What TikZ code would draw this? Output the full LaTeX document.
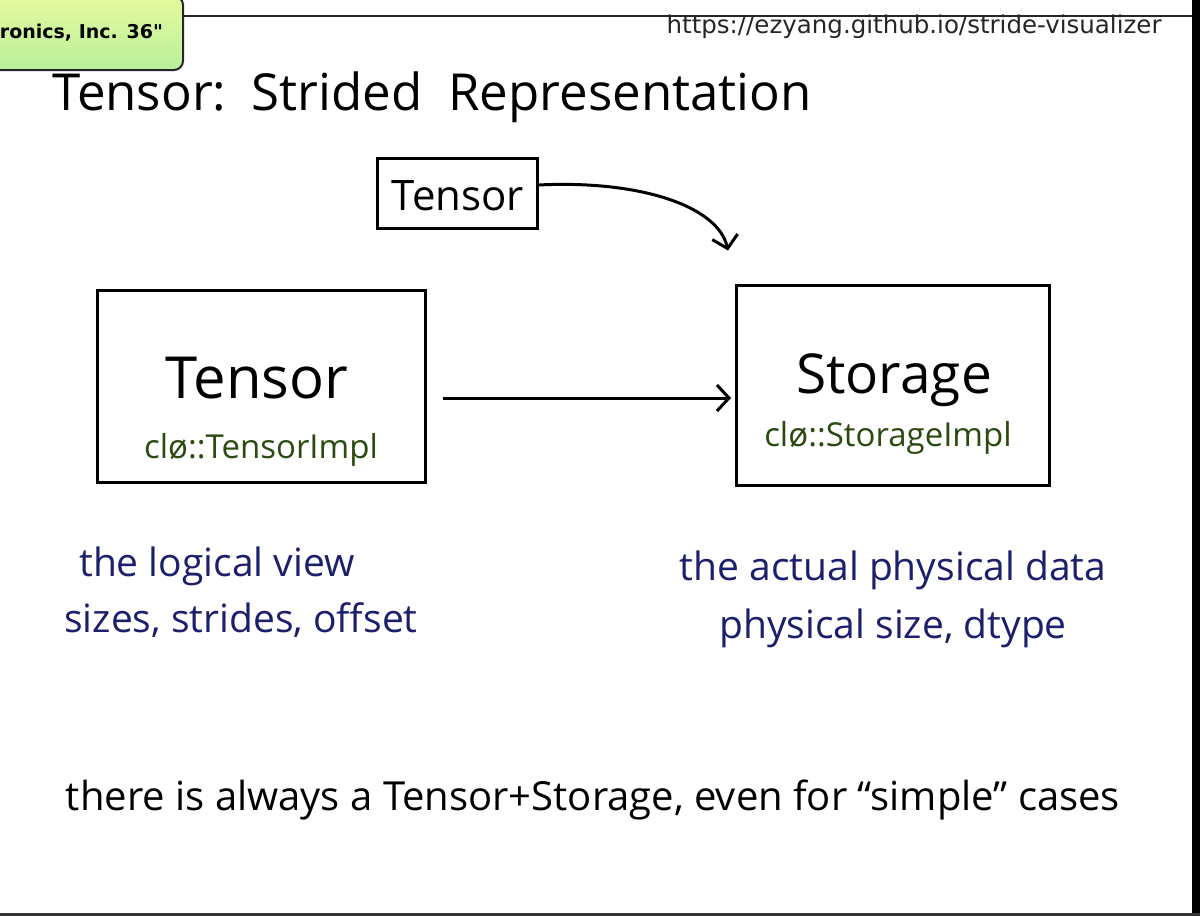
\documentclass[tikz,border=0pt]{standalone}
\usepackage{fontspec}
\setmainfont{Open Sans}
\newfontfamily\urlfont{DejaVu Sans}
\usetikzlibrary{positioning, arrows.meta}

\definecolor{inkgreen}{HTML}{2A4A10}
\definecolor{inkblue}{HTML}{1C1F6B}
\definecolor{taggreen}{HTML}{B8F09C}

\begin{document}
\begin{tikzpicture}[x=1pt, y=-1pt,
  box/.style={draw, line width=3pt, inner sep=0pt},
  big/.style={font=\fontsize{58}{64}\selectfont, anchor=base},
  impl/.style={font=\fontsize{33}{36}\selectfont, text=inkgreen, anchor=base},
  note/.style={font=\fontsize{39}{42}\selectfont, text=inkblue, anchor=base},
  arr/.style={-{Straight Barb[length=12pt, width=26pt, line width=3pt]}, line width=3pt},
]

\useasboundingbox (0,0) rectangle (1200,916);
\fill[white] (0,0) rectangle (1200,916);
\clip (0,0) rectangle (1200,916);

%% ---- Slide frame ----

\draw[line width=2pt, black!85] (183,16) -- (1192,16);
\fill[black] (1192,0) rectangle (1200,916);
\fill[black!80] (0,913) rectangle (1200,916);

\node[draw=black!85, line width=2pt, rounded corners=9pt,
      top color=taggreen!60!yellow!60, bottom color=taggreen,
      minimum height=74pt, inner xsep=20pt, anchor=east,
      font=\urlfont\bfseries\fontsize{19}{22}\selectfont] (tag)
    at (184,33) {ronics, Inc. 36"};

\node[font=\urlfont\fontsize{24.5}{28}\selectfont, text=black!85, anchor=east]
    (url) at (1165,27) {https://ezyang.github.io/stride-visualizer};

%% ---- Title ----

\node[font=\fontsize{51}{56}\selectfont, anchor=base] (title)
    at (432,110) {Tensor:\enspace Strided\enspace Representation};

%% ---- Boxes ----

\node[box, minimum width=160pt, minimum height=70pt] (ref) at (457,193) {};
\node[font=\fontsize{42}{46}\selectfont, anchor=base] (reflbl) at (458,210) {Tensor};

\node[box, minimum width=328pt, minimum height=192pt] (tensor) at (261,386) {};
\node[big] (tensorlbl) at (257,398) {Tensor};
\node[impl] (tensorimpl) at (261,458) {clø::TensorImpl};

\node[box, minimum width=313pt, minimum height=200pt] (storage) at (893,385) {};
\node[big, font=\fontsize{55}{60}\selectfont] (storagelbl) at (894,393) {Storage};
\node[impl] (storageimpl) at (888,446) {clø::StorageImpl};

%% ---- Arrows ----

\coordinate (from) at ([xshift=16pt, yshift=-12pt]tensor.east);
\draw[arr, shorten >=4pt] (from) -- (from -| storage.west);

\draw[arr] ([yshift=8pt]ref.east)
    .. controls +(100,-5) and +(-10,-45) ..
    ([xshift=-7pt, yshift=33pt]storage.north west);

%% ---- Notes ----

\node[note] (logical) at (217,576) {the logical view};
\node[note] (lmeta)   at (241,632) {sizes, strides, offset};

\node[note] (physical) at (893,580) {the actual physical data};
\node[note] (pmeta)    at (893,638) {physical size, dtype};

\node[font=\fontsize{40}{44}\selectfont, anchor=base] (always) at (593,810)
    {there is always a Tensor+Storage, even for “simple” cases};

\end{tikzpicture}
\end{document}
